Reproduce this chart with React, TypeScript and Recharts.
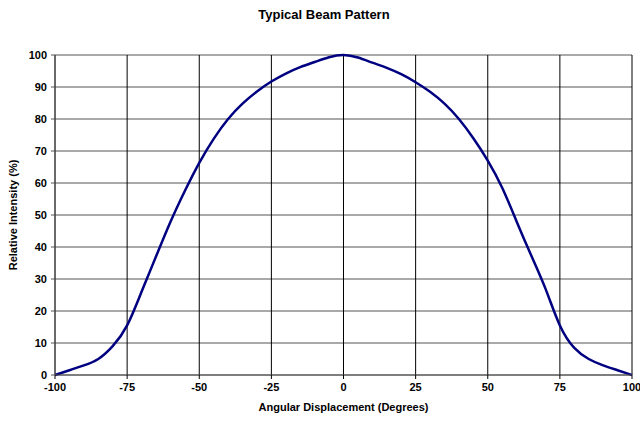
import { LineChart, Line, XAxis, YAxis, CartesianGrid } from 'recharts'

const ANGLES = [-100, -95, -90, -85, -80, -75, -70, -65, -60, -55, -50, -45, -40, -35, -30, -25, -20, -15, -10, -5, 0, 5, 10, 15, 20, 25, 30, 35, 40, 45, 50, 55, 60, 65, 70, 75, 80, 85, 90, 95, 100]
const INTENSITY = [0, 1.5, 3, 5, 9, 15.5, 26, 37, 47.8, 57.5, 66.3, 73.8, 80, 84.8, 88.6, 91.7, 94.2, 96.2, 97.8, 99.3, 100, 99.2, 97.6, 96, 94, 91.5, 88.5, 84.8, 80, 74, 67, 58.5, 48, 37.5, 27, 15.5, 8.5, 5, 3, 1.5, 0]
const X_TICKS = [-100, -75, -50, -25, 0, 25, 50, 75, 100]
const Y_TICKS = [0, 10, 20, 30, 40, 50, 60, 70, 80, 90, 100]

const data = ANGLES.map((a, i) => ({ angle: a, value: INTENSITY[i] }))

const FONT = '"Liberation Sans", Arial, sans-serif'
const tick = { fontSize: 11, fontWeight: 700, fill: '#000', fontFamily: FONT }

export default function App() {
  return (
    <div style={{ position: 'absolute', left: 0, top: 0, width: 640, height: 421, background: '#fff', fontFamily: FONT }}>
      <div style={{ position: 'absolute', top: 7, left: 0, width: 648, textAlign: 'center', fontSize: 13, fontWeight: 700 }}>
        Typical Beam Pattern
      </div>
      <LineChart width={640} height={421} data={data} margin={{ top: 55, right: 8, left: 0, bottom: 16 }}>
        <CartesianGrid vertical={false} stroke="#555" strokeWidth={1} />
        <CartesianGrid horizontal={false} stroke="#000" strokeWidth={1} />
        <XAxis dataKey="angle" type="number" domain={[-100, 100]} ticks={X_TICKS} interval={0}
          tick={tick} tickSize={4} tickMargin={4} height={30} axisLine={{ stroke: '#555' }} tickLine={{ stroke: '#000' }}
          label={{ value: 'Angular Displacement (Degrees)', position: 'insideBottom', offset: -6, style: { fontSize: 11, fontWeight: 700, fill: '#000', fontFamily: FONT } }} />
        <YAxis type="number" domain={[0, 100]} ticks={Y_TICKS} interval={0} width={55}
          tick={tick} tickSize={4} tickMargin={4} axisLine={{ stroke: '#555' }} tickLine={{ stroke: '#555' }}
          label={{ value: 'Relative Intensity (%)', angle: -90, position: 'insideLeft', offset: 13, style: { textAnchor: 'middle', fontSize: 11, fontWeight: 700, fill: '#000', fontFamily: FONT } }} />
        <Line type="natural" dataKey="value" stroke="#000080" strokeWidth={2.5} dot={false} isAnimationActive={false} />
      </LineChart>
    </div>
  )
}
